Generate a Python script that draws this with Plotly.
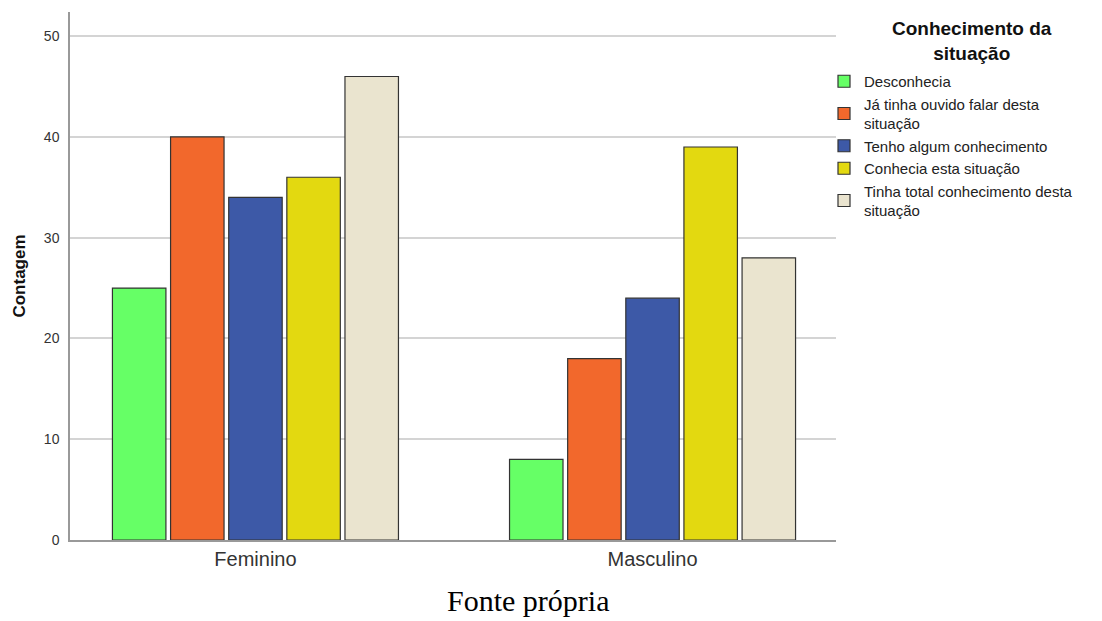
import plotly.graph_objects as go

categories = ["Feminino", "Masculino"]
series_names = [
    "Desconhecia",
    "Já tinha ouvido falar desta<br>situação",
    "Tenho algum conhecimento",
    "Conhecia esta situação",
    "Tinha total conhecimento desta<br>situação",
]
values = [
    [25, 8],
    [40, 18],
    [34, 24],
    [36, 39],
    [46, 28],
]
colors = ["#66FF66", "#F2682C", "#3D59A7", "#E3D910", "#EAE4CF"]
y_ticks = [0, 10, 20, 30, 40, 50]

fig = go.Figure()
for name, vals, col in zip(series_names, values, colors):
    fig.add_trace(go.Bar(
        x=categories, y=vals, name=name,
        marker=dict(color=col, line=dict(color="#333333", width=1.2)),
    ))

# page pixel -> paper coordinate helpers (plot area: x 70..836, y 12..540 on the page)
def px(xp):
    return (xp - 70) / 766

def py(yp):
    return (540 - yp) / 528

fig.update_layout(
    width=1094, height=613,
    margin=dict(l=62, r=266, t=4, b=81),
    paper_bgcolor="white", plot_bgcolor="white",
    barmode="group", bargap=0.268, bargroupgap=0.08,
    font=dict(family="Liberation Sans, Arial, sans-serif", color="#222222"),
    xaxis=dict(
        range=[-0.467, 1.462], showgrid=False,
        showline=True, linecolor="#999999", linewidth=1.5,
        ticks="", tickfont=dict(size=20, color="#333333"),
    ),
    yaxis=dict(
        range=[0, 52.4], tickvals=y_ticks,
        showgrid=True, gridcolor="#d4d4d4", gridwidth=1.5,
        showline=True, linecolor="#999999", linewidth=1.5,
        zeroline=False, ticks="", ticklabelstandoff=6,
        tickfont=dict(size=14, color="#333333"),
        title=dict(text="<b>Contagem</b>", font=dict(size=17, color="#111111"), standoff=14),
    ),
    legend=dict(
        x=px(824), xref="paper", y=py(65), yanchor="top",
        font=dict(size=15, color="#222222"),
        itemwidth=30, valign="middle",
        bgcolor="rgba(0,0,0,0)",
    ),
    annotations=[
        dict(
            text="<b>Conhecimento da<br>situação</b>", x=px(972), xref="paper",
            y=py(41), yref="paper", xanchor="center", yanchor="middle", align="center",
            showarrow=False, font=dict(size=19, color="#111111"),
        ),
        dict(
            text="Fonte própria", x=px(528), xref="paper", y=py(600), yref="paper",
            xanchor="center", yanchor="middle", showarrow=False,
            font=dict(family="Liberation Serif, Times New Roman, serif", size=30, color="#000000"),
        ),
    ],
)
fig.write_html("out.html")
